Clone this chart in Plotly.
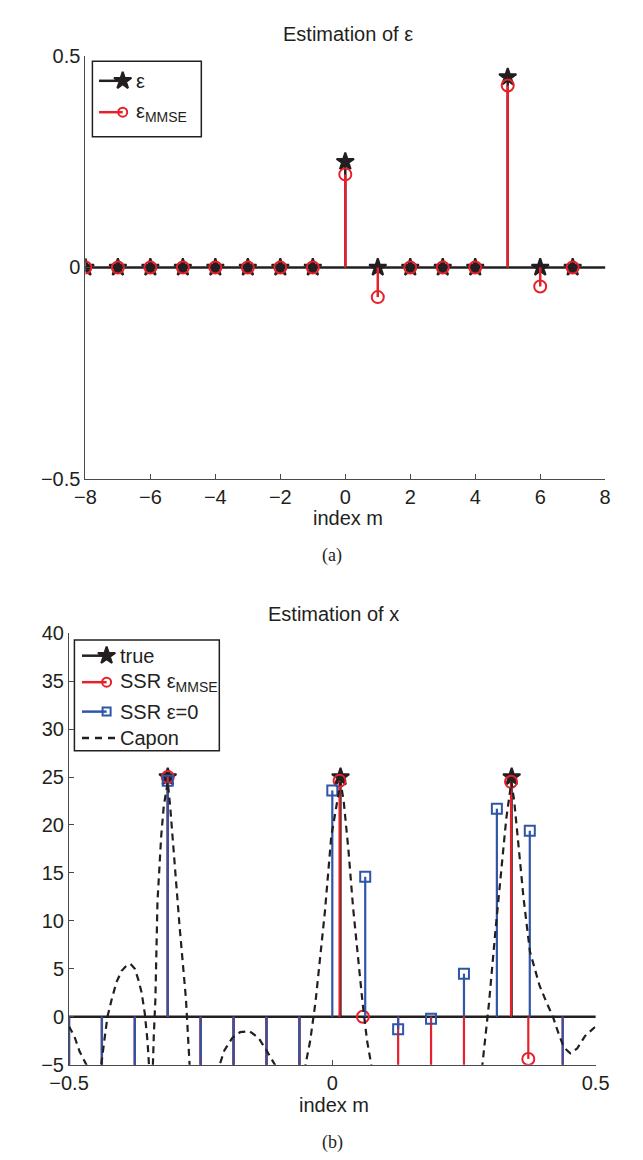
import numpy as np
import plotly.graph_objects as go

# ---------------- data ----------------
N_GRID = 16
M_INDEX = list(range(-8, 8))                       # grid index m
EPS_TRUE = [0, 0, 0, 0, 0, 0, 0, 0, 0.25, 0, 0, 0, 0, 0.45, 0, 0]
EPS_MMSE = [0, 0, 0, 0, 0, 0, 0, 0, 0.22, -0.07, 0, 0, 0, 0.43, -0.045, 0]

NEG_INF = float("-inf")                           # "no component" in dB
# amplitude (dB) per grid index m = -8..7
X_TRUE_DB = [NEG_INF, NEG_INF, NEG_INF, 25.0, NEG_INF, NEG_INF, NEG_INF, NEG_INF,
             25.0, None, None, None, None, 25.0, None, None]
X_MMSE_DB = [NEG_INF, NEG_INF, NEG_INF, 25.0, NEG_INF, NEG_INF, NEG_INF, NEG_INF,
             24.6, 0.0, NEG_INF, NEG_INF, NEG_INF, 24.5, -4.4, NEG_INF]
X_EPS0_DB = [NEG_INF, NEG_INF, NEG_INF, 24.6, NEG_INF, NEG_INF, NEG_INF, NEG_INF,
             23.6, 14.6, -1.3, -0.2, 4.5, 21.7, 19.4, NEG_INF]

CAPON_F = [-0.5, -0.49, -0.48, -0.467, -0.455, -0.44, -0.433, -0.427, -0.419, -0.41,
           -0.40, -0.39, -0.383, -0.375, -0.368, -0.362, -0.356, -0.351, -0.347, -0.343,
           -0.339, -0.336, -0.332, -0.325, -0.320, -0.3125, -0.308, -0.299, -0.290, -0.278,
           -0.271, -0.262, -0.24, -0.214, -0.205, -0.19, -0.175, -0.157, -0.14, -0.125,
           -0.109, -0.09, -0.07, -0.051, -0.042, -0.032, -0.014, -0.002, 0.0067, 0.0156,
           0.0216, 0.0306, 0.0396, 0.0486, 0.0576, 0.066, 0.074, 0.09, 0.18, 0.27,
           0.285, 0.2975, 0.3095, 0.3214, 0.3304, 0.340, 0.3454, 0.3544, 0.3633, 0.3753,
           0.3933, 0.406, 0.419, 0.43, 0.44, 0.452, 0.465, 0.48, 0.5]
CAPON_DB = [-1.0, -2.0, -3.6, -5.0, -7.0, -5.5, -2.5, 0.0, 1.8, 3.6,
            4.8, 5.4, 5.5, 5.0, 3.8, 2.5, 0.3, -2.5, -6.0, -9.0,
            -2.0, 1.8, 12.0, 18.8, 22.0, 24.5, 22.0, 15.5, 9.4, 1.9,
            -5.0, -9.0, -12.0, -5.0, -3.5, -2.2, -1.6, -1.5, -2.2, -3.5,
            -5.0, -9.0, -8.0, -5.0, -2.5, 1.5, 11.0, 18.8, 21.7, 24.5,
            22.5, 17.4, 11.3, 6.2, 1.4, -2.5, -5.0, -10.0, -15.0, -10.0,
            -5.0, 1.4, 8.8, 15.6, 20.7, 24.5, 22.5, 17.4, 12.3, 6.8,
            3.3, 1.6, 0.0, -1.8, -3.2, -3.8, -3.3, -2.0, -1.0]

TOP_X_TICKS = [-8, -6, -4, -2, 0, 2, 4, 6, 8]
TOP_Y_TICKS = [-0.5, 0, 0.5]
BOT_X_TICKS = [-0.5, 0, 0.5]
BOT_Y_TICKS = [-5, 0, 5, 10, 15, 20, 25, 30, 35, 40]

# ---------------- style ----------------
W, H = 643, 1160
RED = "#e6212b"
BLUE = "#2f55a8"
BLACK = "#231f20"
AXC = "#4a4a4a"
FONT = "Liberation Sans, Arial, sans-serif"
FS = 20

def px(x):
    return x / W

def py(y):
    return 1 - y / H

TOP_YR = [-0.5, 0.5]
BOT_YR = [-5, 40]


def stems(xs, ys, floor):
    lx, ly, mx, my = [], [], [], []
    for x, y in zip(xs, ys):
        if y is None:
            continue
        end = floor if np.isneginf(y) else y
        lx += [float(x), float(x), None]
        ly += [0.0, float(end), None]
        if not np.isneginf(y):
            mx.append(float(x))
            my.append(float(y))
    return lx, ly, mx, my


fig = go.Figure()

# ---------- top panel: estimation of epsilon ----------
m_arr = np.array(M_INDEX, dtype=float)
for vals, color, sym, size in [(EPS_TRUE, BLACK, "star", 13),
                               (EPS_MMSE, RED, "circle-open", 12)]:
    lx, ly, mx, my = stems(m_arr, vals, TOP_YR[0] - 10)
    fig.add_trace(go.Scatter(x=lx, y=ly, mode="lines", line=dict(color=color, width=2.5),
                             xaxis="x", yaxis="y", showlegend=False, hoverinfo="skip"))
    fig.add_trace(go.Scatter(x=mx, y=my, mode="markers",
                             marker=dict(symbol=sym, size=size, color=color,
                                         line=dict(color=color, width=2)),
                             xaxis="x", yaxis="y", showlegend=False))

# ---------- bottom panel: estimation of x ----------
grid_true = (m_arr + np.array(EPS_TRUE)) / N_GRID
grid_mmse = (m_arr + np.array(EPS_MMSE)) / N_GRID
grid_0 = m_arr / N_GRID
for xs, vals, color, sym, size in [(grid_true, X_TRUE_DB, BLACK, "star", 13),
                                   (grid_mmse, X_MMSE_DB, RED, "circle-open", 12),
                                   (grid_0, X_EPS0_DB, BLUE, "square-open", 10)]:
    lx, ly, mx, my = stems(xs, vals, BOT_YR[0] - 100)
    fig.add_trace(go.Scatter(x=lx, y=ly, mode="lines", line=dict(color=color, width=2.2),
                             xaxis="x2", yaxis="y2", showlegend=False, hoverinfo="skip"))
    fig.add_trace(go.Scatter(x=mx, y=my, mode="markers",
                             marker=dict(symbol=sym, size=size, color=color,
                                         line=dict(color=color, width=2)),
                             xaxis="x2", yaxis="y2", showlegend=False))

fig.add_trace(go.Scatter(x=CAPON_F, y=CAPON_DB, mode="lines",
                         line=dict(color=BLACK, width=2.2, dash="7px,5px"),
                         xaxis="x2", yaxis="y2", showlegend=False))

# ---------- custom legends (pixel overlay axes) ----------
LEG_TOP = [("ε", BLACK, "star", 13, "solid", 63),
           ("ε<sub>MMSE</sub>", RED, "circle-open", 9, "solid", 95)]
LEG_BOT = [("true", BLACK, "star", 13, "solid", 649),
           ("SSR ε<sub>MMSE</sub>", RED, "circle-open", 9, "solid", 676),
           ("SSR ε=0", BLUE, "square-open", 8, "solid", 706),
           ("Capon", BLACK, None, 0, "7px,6px", 733)]

shapes = []
annotations = []
for entries, (bx0, by0, bx1, by1), (ix0, ix1, tx) in [
        (LEG_TOP, (68, 43, 183, 120), (75, 100, 112)),
        (LEG_BOT, (49, 633, 202, 746), (57, 83, 95))]:
    shapes.append(dict(type="rect", xref="paper", yref="paper",
                       x0=px(bx0), x1=px(bx1), y0=py(by1), y1=py(by0),
                       line=dict(color=BLACK, width=1.5), fillcolor="white", layer="below"))
    for label, color, sym, size, dash, yy in entries:
        xe = ix1 if sym else ix1 + 9
        fig.add_trace(go.Scatter(x=[ix0, xe], y=[yy, yy], mode="lines",
                                 line=dict(color=color, width=2.5, dash=dash),
                                 xaxis="x3", yaxis="y3", showlegend=False))
        if sym:
            fig.add_trace(go.Scatter(x=[ix1], y=[yy], mode="markers",
                                     marker=dict(symbol=sym, size=size, color=color,
                                                 line=dict(color=color, width=2)),
                                     xaxis="x3", yaxis="y3", showlegend=False))
        annotations.append(dict(text=label, x=px(tx), y=py(yy), xref="paper", yref="paper",
                                xanchor="left", yanchor="middle", showarrow=False,
                                font=dict(family=FONT, size=FS, color=BLACK)))

# baselines
for xr, yr in [("x domain", "y"), ("x2 domain", "y2")]:
    shapes.append(dict(type="line", xref=xr, yref=yr, x0=0, x1=1, y0=0, y1=0,
                       line=dict(color=BLACK, width=2.5), layer="below"))

# titles, labels, captions
for text, x, y, fam, size in [
        ("Estimation of ε", 338, 15, FONT, FS),
        ("index m", 338, 509, FONT, FS),
        ("(a)", 321, 547, "Liberation Serif, Times New Roman, serif", 18),
        ("Estimation of x", 323, 607, FONT, FS),
        ("index m", 323, 1107, FONT, FS),
        ("(b)", 321, 1145, "Liberation Serif, Times New Roman, serif", 18)]:
    annotations.append(dict(text=text, x=px(x), y=py(y), xref="paper", yref="paper",
                            xanchor="center", yanchor="middle", showarrow=False,
                            font=dict(family=fam, size=size, color=BLACK)))

axis_common = dict(showgrid=False, zeroline=False, showline=True, linecolor=AXC,
                   linewidth=1, ticks="inside", ticklen=5, tickcolor=AXC, mirror=False,
                   tickfont=dict(family=FONT, size=FS, color=BLACK))

fig.update_layout(
    width=W, height=H, autosize=False,
    margin=dict(l=0, r=0, t=0, b=0),
    paper_bgcolor="white", plot_bgcolor="rgba(0,0,0,0)",
    showlegend=False,
    xaxis=dict(domain=[px(60.6), px(609.4)], range=[-8, 8], tickvals=TOP_X_TICKS,
               anchor="y", **axis_common),
    yaxis=dict(domain=[py(469), py(37.6)], range=TOP_YR, tickvals=TOP_Y_TICKS,
               anchor="x", **axis_common),
    xaxis2=dict(domain=[px(43.3), px(599.3)], range=[-0.5, 0.5], tickvals=BOT_X_TICKS,
                anchor="y2", **axis_common),
    yaxis2=dict(domain=[py(1066), py(626)], range=BOT_YR, tickvals=BOT_Y_TICKS,
                anchor="x2", **axis_common),
    xaxis3=dict(domain=[0, 1], range=[0, W], visible=False, anchor="y3"),
    yaxis3=dict(domain=[0, 1], range=[H, 0], visible=False, anchor="x3"),
    shapes=shapes,
    annotations=annotations,
)

fig.write_html("out.html")
